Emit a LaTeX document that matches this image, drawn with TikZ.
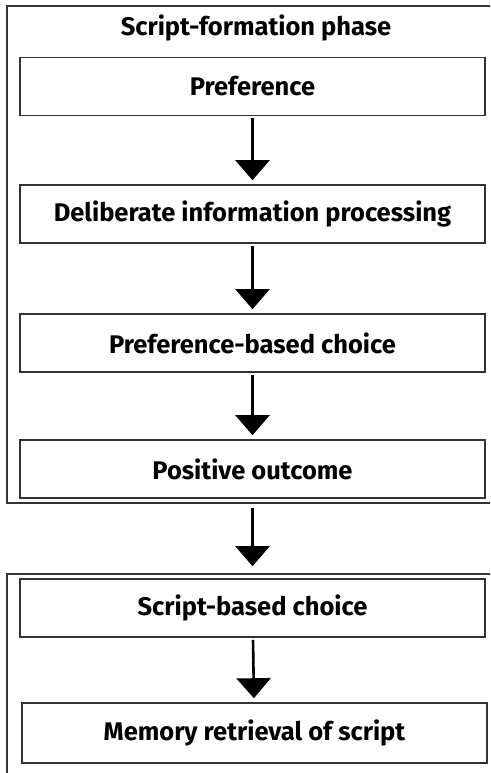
\documentclass[tikz,border=0pt]{standalone}
\usepackage{fontspec}
\setmainfont{Fira Sans}
\usetikzlibrary{arrows.meta}

\tikzset{
  frame/.style={draw=black!80, line width=1.6pt},
  box/.style={draw=black!80, line width=1.6pt, minimum width=465pt, minimum height=58pt,
    inner sep=0pt, font=\fontsize{25.5}{30}\selectfont\bfseries},
  flow/.style={line width=2.6pt, -{Triangle[width=34pt,length=20pt]}, shorten <=2pt, shorten >=4pt}
}

\begin{document}
\begin{tikzpicture}[x=1pt, y=-1pt]
			%%%%% START %%%%%
			\useasboundingbox (0,0) rectangle (490,773);
			\clip (0,0) rectangle (490,773);
			
			% phase frames
			\draw[frame] (7,6) rectangle (700,503);
			\draw[frame] (7,800) |- (700,574);
			
			\node[font=\fontsize{25.5}{30}\selectfont\bfseries] (title) at (256,28) {Script-formation phase};
			
			\node[box] (pref) at (252.5,86.5) {Preference};
			\node[box] (delib) at (252.5,214) {Deliberate information processing};
			\node[box] (prefchoice) at (252.5,343) {Preference-based choice};
			\node[box] (outcome) at (252.5,469) {Positive outcome};
			
			\node[box] (scriptchoice) at (252.5,608) {Script-based choice};
			\node[box, minimum height=60pt] (retrieval) at (254.5,733) {Memory retrieval of script};
			
			\draw[flow] (pref) -- (delib);
			\draw[flow] (delib) -- (prefchoice);
			\draw[flow] (prefchoice) -- (outcome);
			\draw[flow, shorten <=9pt, shorten >=12pt] (outcome) -- (scriptchoice);
			\draw[flow] (scriptchoice) -- (retrieval);
			
			%%%%% END %%%%%
\end{tikzpicture}
\end{document}
